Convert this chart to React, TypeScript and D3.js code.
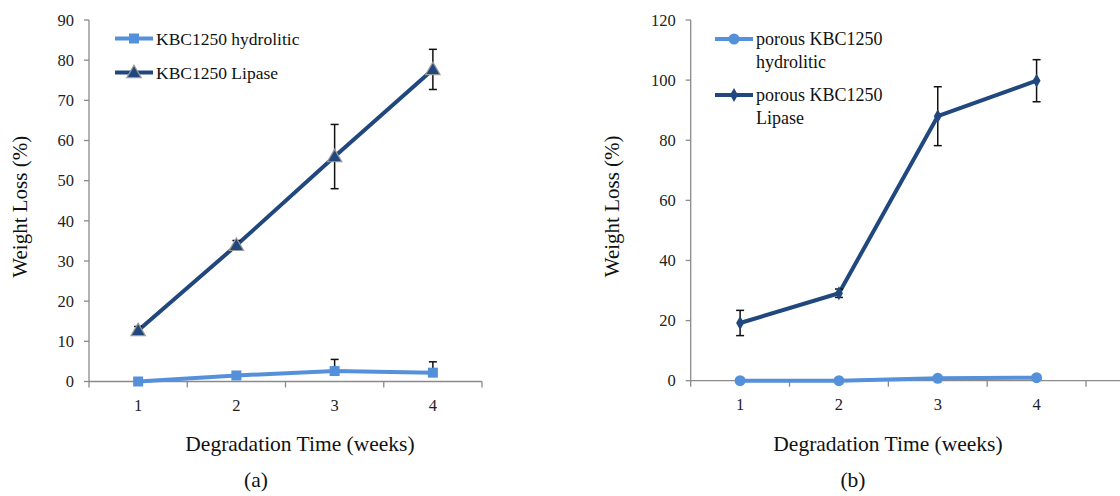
import React from "react";
import * as d3 from "d3";

const weeks = [1, 2, 3, 4];
const aHydro = [0, 1.5, 2.6, 2.2];
const aHydroErr = [0, 0, 2.9, 2.7];
const aLipase = [12.7, 33.9, 56, 77.7];
const aLipaseErr = [1, 1.2, 8, 5];
const aTicks = [0, 10, 20, 30, 40, 50, 60, 70, 80, 90];

const bHydro = [0, 0, 0.8, 1];
const bHydroErr = [0, 0, 0, 0];
const bLipase = [19.2, 29.1, 88, 99.8];
const bLipaseErr = [4.2, 1.4, 9.8, 7];
const bTicks = [0, 20, 40, 60, 80, 100, 120];

const LIGHT = "#5590DA";
const DARK = "#21487E";
const AXIS = "#8a8a8a";
const FONT = "Liberation Serif";

type Series = { name: string[]; values: number[]; err: number[]; color: string; marker: string; errMode: "both" | "plus" };

function Marker({ kind, x, y, color }: { kind: string; x: number; y: number; color: string }) {
  if (kind === "square") return <rect x={x - 5} y={y - 5} width={10} height={10} fill={color} />;
  if (kind === "triangle") {
    const p = d3.symbol().type(d3.symbolTriangle).size(90)();
    return <path d={p || ""} transform={`translate(${x},${y + 1})`} fill={color} stroke="#9a9a9a" strokeWidth={1.2} />;
  }
  if (kind === "circle") return <circle cx={x} cy={y} r={5.5} fill={color} />;
  const p = d3.symbol().type(d3.symbolDiamond).size(55)();
  return <path d={p || ""} transform={`translate(${x},${y})`} fill={color} />;
}

const tStyle = { fontFamily: FONT };

function Panel(props: {
  x0: number; x1: number; yTop: number; yBot: number; axisEnd: number; max: number; ticks: number[];
  series: Series[]; legendX: number; legendY: number[]; legendSize: number; label: string; yTitleX: number; labelX: number; xTitleX: number;
}) {
  const { x0, x1, yTop, yBot, axisEnd, max, ticks, series } = props;
  const x = d3.scaleLinear().domain([0.5, 4.5]).range([x0, x1]);
  const y = d3.scaleLinear().domain([0, max]).range([yBot, yTop]);
  const line = d3.line<number>().x((_, i) => x(weeks[i])).y((d) => y(d));
  const xt = [0.5, 1.5, 2.5, 3.5, 4.5];
  return (
    <g>
      <line x1={x0} x2={x0} y1={yTop} y2={yBot} stroke={AXIS} strokeWidth={1.3} />
      <line x1={x0} x2={axisEnd} y1={yBot} y2={yBot} stroke={AXIS} strokeWidth={1.3} />
      {ticks.map((t) => (
        <g key={t}>
          <line x1={x0 - 5} x2={x0} y1={y(t)} y2={y(t)} stroke={AXIS} strokeWidth={1.3} />
          <text style={tStyle} x={x0 - 15} y={y(t)} dy="0.35em" textAnchor="end" fontSize={16.5} fill="#222">{t}</text>
        </g>
      ))}
      {xt.map((t) => (
        <line key={t} x1={x(t)} x2={x(t)} y1={yBot} y2={yBot + 6} stroke={AXIS} strokeWidth={1.3} />
      ))}
      {weeks.map((w) => (
        <text style={tStyle} key={w} x={x(w)} y={yBot + 24} dy="0.35em" textAnchor="middle" fontSize={16.5} fill="#222">{w}</text>
      ))}
      {series.map((s, si) => (
        <g key={si}>
          <path d={line(s.values) || ""} fill="none" stroke={s.color} strokeWidth={4} strokeLinejoin="round" />
          {s.values.map((v, i) =>
            s.err[i] > 0 ? (
              <g key={i} stroke="#111" strokeWidth={1.5}>
                <line x1={x(weeks[i])} x2={x(weeks[i])} y1={y(v + s.err[i])} y2={s.errMode === "both" ? y(v - s.err[i]) : y(v)} />
                <line x1={x(weeks[i]) - 4} x2={x(weeks[i]) + 4} y1={y(v + s.err[i])} y2={y(v + s.err[i])} />
                {s.errMode === "both" && (
                  <line x1={x(weeks[i]) - 4} x2={x(weeks[i]) + 4} y1={y(v - s.err[i])} y2={y(v - s.err[i])} />
                )}
              </g>
            ) : null
          )}
          {s.values.map((v, i) => (
            <Marker key={"m" + i} kind={s.marker} x={x(weeks[i])} y={y(v)} color={s.color} />
          ))}
          <line x1={props.legendX} x2={props.legendX + 38} y1={props.legendY[si]} y2={props.legendY[si]} stroke={s.color} strokeWidth={4} />
          <Marker kind={s.marker} x={props.legendX + 19} y={props.legendY[si]} color={s.color} />
          {s.name.map((n, ni) => (
            <text style={tStyle} key={ni} x={props.legendX + 41} y={props.legendY[si] + ni * 23} dy="0.35em" fontSize={props.legendSize} fill="#111">{n}</text>
          ))}
        </g>
      ))}
      <text style={tStyle} transform={`translate(${props.yTitleX},${(yTop + yBot) / 2 + 6}) rotate(-90)`} textAnchor="middle" dy="0.35em" fontSize={21} fill="#111">Weight Loss (%)</text>
      <text style={tStyle} x={props.xTitleX} y={443} dy="0.35em" textAnchor="middle" fontSize={21.5} fill="#111">Degradation Time (weeks)</text>
      <text style={tStyle} x={props.labelX} y={479} dy="0.35em" textAnchor="middle" fontSize={21.5} fill="#111">{props.label}</text>
    </g>
  );
}

export default function App() {
  const seriesA: Series[] = [
    { name: ["KBC1250 hydrolitic"], values: aHydro, err: aHydroErr, color: LIGHT, marker: "square", errMode: "plus" },
    { name: ["KBC1250 Lipase"], values: aLipase, err: aLipaseErr, color: DARK, marker: "triangle", errMode: "both" },
  ];
  const seriesB: Series[] = [
    { name: ["porous KBC1250", "hydrolitic"], values: bHydro, err: bHydroErr, color: LIGHT, marker: "circle", errMode: "both" },
    { name: ["porous KBC1250", "Lipase"], values: bLipase, err: bLipaseErr, color: DARK, marker: "diamond", errMode: "both" },
  ];
  return (
    <svg width={1120} height={496} style={{ position: "absolute", left: 0, top: 0, background: "#fff", fontFamily: FONT }}>
      <Panel x0={89} x1={482} yTop={20} yBot={381.5} axisEnd={482} max={90} ticks={aTicks} series={seriesA}
        legendX={115} legendY={[38.5, 72.5]} legendSize={17.5} label="(a)" yTitleX={20} labelX={256} xTitleX={300} />
      <Panel x0={690.7} x1={1086} yTop={20} yBot={380.7} axisEnd={1120} max={120} ticks={bTicks} series={seriesB}
        legendX={715} legendY={[39, 95]} legendSize={18} label="(b)" yTitleX={612} labelX={853} xTitleX={888} />
    </svg>
  );
}
